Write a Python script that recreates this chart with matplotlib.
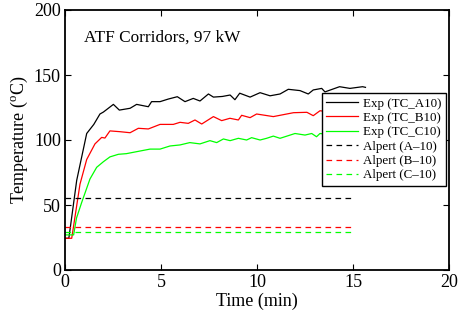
import matplotlib
matplotlib.use("Agg")
import matplotlib.pyplot as plt

plt.rcParams["font.family"] = ["Liberation Serif", "DejaVu Serif"]
plt.rcParams["mathtext.fontset"] = "custom"
plt.rcParams["mathtext.rm"] = "Liberation Serif"

# experimental thermocouple traces (time in min, temperature in degC)
t_a10 = [0, 0.2, 0.61, 1.13, 1.5, 1.82, 2.0, 2.52, 2.83, 3.39, 3.73, 4.34, 4.51, 4.95,
         5.38, 5.85, 6.25, 6.68, 7.03, 7.47, 7.73, 8.2, 8.6, 8.85, 9.1, 9.64, 10.16,
         10.68, 11.2, 11.63, 12.24, 12.67, 12.93, 13.37, 13.54, 14.3, 14.84, 15.5, 15.65]
T_a10 = [24.4, 24.4, 69, 105, 112, 120, 121.5, 127.4, 123, 124.4, 127.4, 125.6, 129.5, 129.5,
         131.5, 133.3, 129.5, 132, 130, 135.4, 133, 133.5, 134.6, 131, 136, 133, 136.4,
         134, 135.4, 139, 138, 135.4, 138.5, 139.7, 137, 141, 139.7, 141, 140.5]

t_b10 = [0, 0.35, 0.78, 1.13, 1.56, 1.91, 2.08, 2.34, 2.86, 3.39, 3.82, 4.34, 4.95, 5.64,
         5.99, 6.42, 6.77, 7.12, 7.73, 8.16, 8.59, 9.03, 9.2, 9.64, 9.98, 10.85, 11.9,
         12.6, 12.93, 13.28, 13.8, 14.4, 15.0, 15.6]
T_b10 = [24.4, 24.4, 66, 85, 97, 102, 101.5, 107, 106.4, 105.6, 109, 108.5, 112, 112,
         113.6, 112.8, 115.4, 112.3, 118, 114.9, 116.7, 115.4, 119, 117.2, 120, 118, 121,
         121.3, 118.7, 122.5, 121.5, 123, 122, 123]

t_c10 = [0, 0.45, 0.6, 0.87, 1.3, 1.65, 2.0, 2.34, 2.78, 3.2, 3.9, 4.43, 4.95, 5.47, 5.99,
         6.5, 7.03, 7.55, 7.9, 8.25, 8.6, 9.03, 9.46, 9.72, 10.16, 10.5, 10.85, 11.2,
         11.98, 12.5, 12.85, 13.1, 13.28, 13.9, 14.5, 15.0, 15.6]
T_c10 = [27, 27, 40, 52, 70, 79, 83.3, 87, 89, 89.5, 91.5, 93, 93, 95.4, 96.2,
         98, 97, 99.5, 98, 100.8, 99.5, 101.3, 100, 101.8, 100, 101.3, 103, 101.3,
         105, 103.8, 105, 102.5, 105, 104, 105.5, 104.5, 105]

# Alpert correlation (constant), drawn 0-15 min
alpert_t = [0, 15]
alpert_a = 55.2
alpert_b = 32.8
alpert_c = 29.5

fig = plt.figure(figsize=(4.66, 3.18), dpi=100)
ax = fig.add_axes([65 / 466, 48 / 318, 384 / 466, 260 / 318])

lw = 0.9
dash = (4.5, 3.5)
ax.plot(t_a10, T_a10, color="black", lw=lw, label="Exp (TC_A10)")
ax.plot(t_b10, T_b10, color="red", lw=lw, label="Exp (TC_B10)")
ax.plot(t_c10, T_c10, color="#00ff00", lw=lw, label="Exp (TC_C10)")
ax.plot(alpert_t, [alpert_a] * 2, color="black", lw=lw, dashes=dash, label="Alpert (A\u201310)")
ax.plot(alpert_t, [alpert_b] * 2, color="red", lw=lw, dashes=dash, label="Alpert (B\u201310)")
ax.plot(alpert_t, [alpert_c] * 2, color="#00ff00", lw=lw, dashes=dash, label="Alpert (C\u201310)")

ax.set_xlim(0, 20)
ax.set_ylim(0, 200)
ax.set_xticks([0, 5, 10, 15, 20])
ax.set_yticks([0, 50, 100, 150, 200])
ax.tick_params(direction="in", length=4, width=0.8, labelsize=13, top=True, right=True, pad=3)
for s in ax.spines.values():
    s.set_linewidth(1.3)

ax.set_xlabel("Time (min)", fontsize=13, labelpad=1)
ax.set_ylabel(r"Temperature ($^\mathrm{o}$C)", fontsize=13, labelpad=3)
ax.text(1.0, 179, "ATF Corridors, 97 kW", fontsize=12.4, va="center", ha="left")

leg = ax.legend(loc="upper left", bbox_to_anchor=(0.669, 0.681), borderaxespad=0,
                fontsize=9.4, fancybox=False, edgecolor="black", framealpha=1,
                handlelength=2.4, handletextpad=0.4, labelspacing=0.17, borderpad=0.35)
leg.get_frame().set_linewidth(1.0)

fig.savefig("out.png", dpi=100)
